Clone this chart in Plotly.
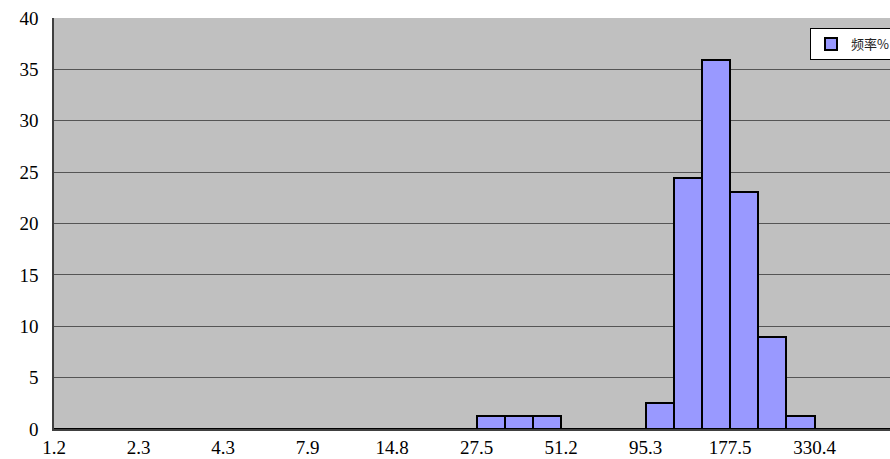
import numpy as np
import plotly.graph_objects as go

# Frequency (%) for each of the 30 logarithmic bins
freq = [0, 0, 0, 0, 0, 0, 0, 0, 0, 0,
        0, 0, 0, 0, 0, 1.3, 1.3, 1.3, 0, 0,
        0, 2.5, 24.4, 35.9, 23.1, 9.0, 1.3, 0, 0, 0]
# Edge labels shown every third bin
tick_labels = ["1.2", "2.3", "4.3", "7.9", "14.8", "27.5", "51.2", "95.3", "177.5", "330.4"]
series_name = "频率%"
y_ticks = [0, 5, 10, 15, 20, 25, 30, 35, 40]

n = len(freq)
x_centers = np.arange(n) + 0.5
tick_pos = np.arange(len(tick_labels)) * 3

fig = go.Figure()
fig.add_trace(go.Bar(
    x=x_centers, y=freq, width=1.0, name=series_name,
    marker=dict(color="#9999FF", line=dict(color="#000000", width=2)),
    showlegend=True,
))

W, H = 890, 459
ml, mt, mb = 54, 18, 30
bin_px = 28.17
plot_w = W - ml
fig.update_layout(
    width=W, height=H,
    margin=dict(l=ml, r=0, t=mt, b=mb, autoexpand=False),
    paper_bgcolor="white",
    plot_bgcolor="#C0C0C0",
    bargap=0,
    showlegend=True,
    legend=dict(
        x=(810 - ml) / plot_w, y=(H - mb - 28) / (H - mb - mt),
        xanchor="left", yanchor="top",
        bgcolor="white", bordercolor="#000000", borderwidth=1,
        font=dict(family="Noto Sans CJK SC", size=13, color="#222222"),
        itemwidth=30,
    ),
    xaxis=dict(
        range=[0, plot_w / bin_px],
        tickmode="array", tickvals=tick_pos, ticktext=tick_labels,
        showgrid=False, zeroline=False,
        showline=True, linecolor="#404040", linewidth=1.5,
        ticks="", tickfont=dict(family="Liberation Serif", size=19, color="#000000"),
    ),
    yaxis=dict(
        range=[0, 40],
        tickmode="array", tickvals=y_ticks,
        showgrid=True, gridcolor="#555555", gridwidth=1,
        zeroline=False,
        showline=True, linecolor="#404040", linewidth=1.5,
        ticks="outside", ticklen=10, tickcolor="rgba(0,0,0,0)",
        tickfont=dict(family="Liberation Serif", size=19, color="#000000"),
    ),
)

fig.write_html(
    "out.html",
    config={"displayModeBar": False},
    post_script="document.body.style.margin='0px';document.body.style.overflow='hidden';",
)
